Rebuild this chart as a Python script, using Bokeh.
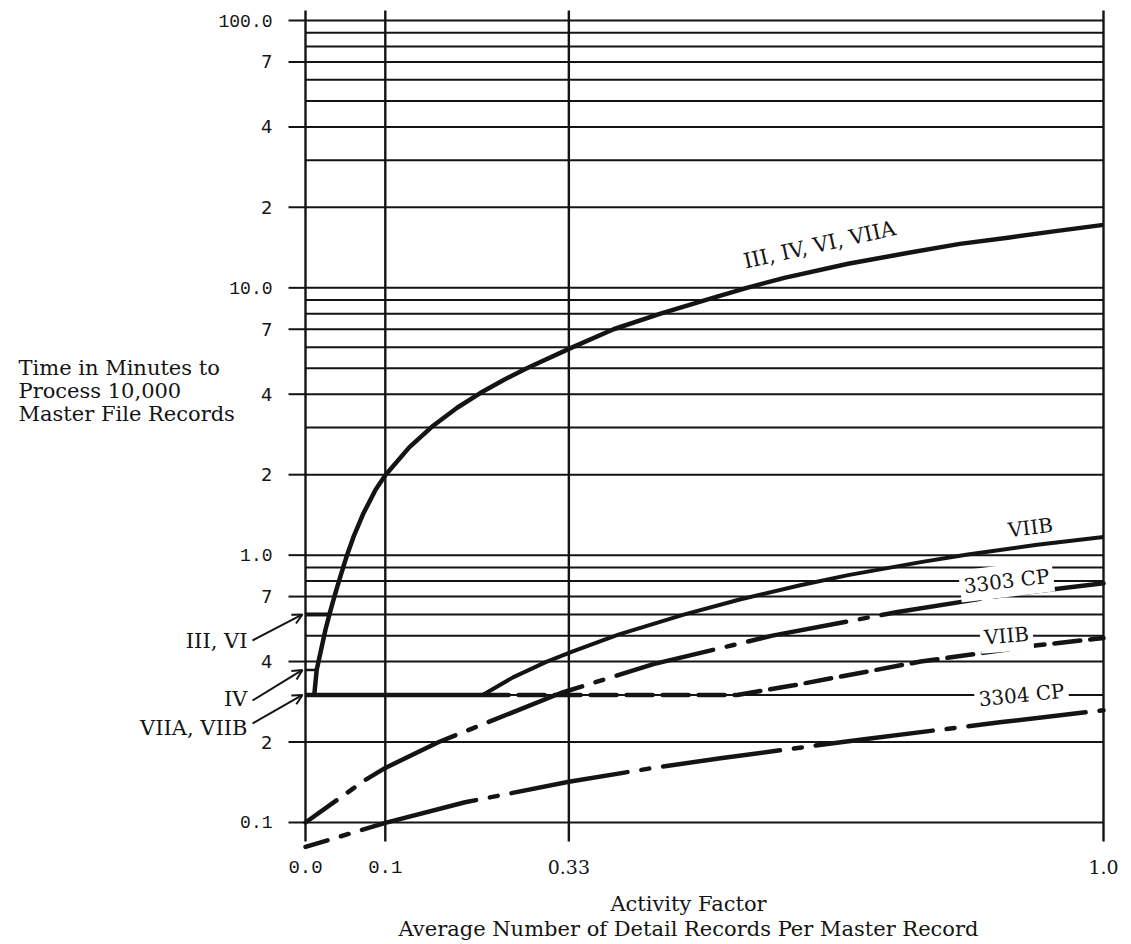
from bokeh.plotting import figure
from bokeh.models import Range1d, Arrow, OpenHead, ColumnDataSource
from bokeh.core.properties import value
from bokeh.embed import file_html
from bokeh.resources import INLINE

# ---------------- data ----------------
x_ticks = [0.0, 0.1, 0.33, 1.0]
x_tick_labels = ["0.0", "0.1", "0.33", "1.0"]
x_tick_fonts = ["Liberation Mono", "Liberation Mono", "DejaVu Serif", "DejaVu Serif"]

y_grid = [0.1, 0.2, 0.3, 0.4, 0.5, 0.6, 0.7, 0.8, 0.9,
          1, 2, 3, 4, 5, 6, 7, 8, 9,
          10, 20, 30, 40, 50, 60, 70, 80, 90, 100]
y_label_values = [100, 70, 40, 20, 10, 7, 4, 2, 1, 0.7, 0.4, 0.2, 0.1]
y_label_texts = ["100.0", "7", "4", "2", "10.0", "7", "4", "2", "1.0", "7", "4", "2", "0.1"]

# starting levels: III, VI ; IV ; VIIA, VIIB
iii_vi_x = [0.0, 0.03]
iii_vi_y = [0.6, 0.6]
iv_x = [0.0, 0.014]
iv_y = [0.372, 0.372]
vii_x = [0.0, 0.222]
vii_y = [0.3, 0.3]

main_x = [0.011, 0.014, 0.025, 0.031, 0.036, 0.042, 0.052, 0.06, 0.072, 0.088, 0.1, 0.13,
          0.16, 0.19, 0.219, 0.25, 0.278, 0.335, 0.386, 0.445, 0.501, 0.553, 0.6, 0.68,
          0.754, 0.82, 0.88, 0.94, 1.0]
main_y = [0.3, 0.372, 0.526, 0.616, 0.697, 0.802, 1.0, 1.168, 1.422, 1.76, 1.99, 2.53,
          3.05, 3.56, 4.04, 4.55, 5.01, 6.0, 7.0, 8.0, 9.0, 10.0, 10.9, 12.3,
          13.5, 14.6, 15.4, 16.3, 17.2]

viib_solid_x = [0.222, 0.26, 0.301, 0.335, 0.392, 0.474, 0.543, 0.62, 0.68, 0.771, 0.83, 0.917, 1.0]
viib_solid_y = [0.30, 0.349, 0.398, 0.437, 0.504, 0.599, 0.681, 0.772, 0.842, 0.942, 1.005, 1.094, 1.17]

viib_dash_x = [0.222, 0.541, 0.612, 0.771, 0.917, 1.0]
viib_dash_y = [0.30, 0.30, 0.326, 0.40, 0.46, 0.49]

cp3303_x = [0.0, 0.073, 0.1, 0.167, 0.32, 0.436, 0.585, 0.742, 0.87, 1.0]
cp3303_y = [0.1, 0.143, 0.16, 0.2, 0.305, 0.391, 0.5, 0.613, 0.705, 0.785]

cp3304_x = [0.0, 0.1, 0.2, 0.33, 0.43, 0.52, 0.7, 0.87, 1.0]
cp3304_y = [0.081, 0.0997, 0.119, 0.142, 0.159, 0.174, 0.205, 0.237, 0.263]

# ---------------- layout helpers (pixel -> data, used only for placing annotations) ----------------
W, H = 1131, 944
PX0, PXW = 305.0, 798.0          # x = 0 at px 305, x = 1 at px 1103
PY100, PYDEC = 20.0, 267.33      # y = 100 at px 20, one decade = 267.33 px


def xd(px):
    return (px - PX0) / PXW


def yd(py):
    return 10 ** (2 - (py - PY100) / PYDEC)


INK = "#141414"
SERIF = "DejaVu Serif"
FS = "21px"

p = figure(width=W, height=H, x_range=Range1d(xd(0), xd(W)), y_range=Range1d(yd(H), yd(0)),
           y_axis_type="log", output_backend="svg", toolbar_location=None,
           x_axis_location=None, y_axis_location=None, min_border=0,
           outline_line_color=None, background_fill_color="white", border_fill_color="white")
p.grid.visible = False

# grid: horizontal lines
n = len(y_grid)
p.segment(x0=[0.0] * n, y0=y_grid, x1=[x_ticks[-1]] * n, y1=y_grid, line_color=INK, line_width=2)
# tick stubs at labelled values
m = len(y_label_values)
p.segment(x0=[xd(288)] * m, y0=y_label_values, x1=[0.0] * m, y1=y_label_values, line_color=INK, line_width=2)
# vertical lines
k = len(x_ticks)
p.segment(x0=x_ticks, y0=[yd(841)] * k, x1=x_ticks, y1=[yd(10)] * k, line_color=INK, line_width=2.4)

# curves
p.line(iii_vi_x, iii_vi_y, line_color=INK, line_width=4)
p.line(iv_x, iv_y, line_color=INK, line_width=2.5)
p.line(vii_x, vii_y, line_color=INK, line_width=4.5)
p.line(main_x, main_y, line_color=INK, line_width=4.5, line_join="round")
p.line(viib_solid_x, viib_solid_y, line_color=INK, line_width=4, line_join="round")
p.line(viib_dash_x, viib_dash_y, line_color=INK, line_width=4.5, line_dash="26 10", line_cap="round")
p.line(cp3303_x, cp3303_y, line_color=INK, line_width=4.5, line_dash="100 14 8 14",
       line_dash_offset=62, line_cap="round", line_join="round")
p.line(cp3304_x, cp3304_y, line_color=INK, line_width=4.5, line_dash="118 14 8 14",
       line_dash_offset=95, line_cap="round", line_join="round")

# y tick labels
y_fonts = ["Liberation Mono" if "." in t else "DejaVu Sans" for t in y_label_texts]
ysrc = ColumnDataSource(dict(x=[xd(272)] * m, y=y_label_values, t=y_label_texts, f=y_fonts))
p.text(x="x", y="y", text="t", text_font="f", text_font_size="18px", source=ysrc,
       text_align="right", text_baseline="middle", text_color=INK)

# x tick labels
xsrc = ColumnDataSource(dict(x=x_ticks, y=[yd(866)] * k, t=x_tick_labels, f=x_tick_fonts))
p.text(x="x", y="y", text="t", text_font="f", text_font_size="19px", source=xsrc,
       text_align="center", text_baseline="middle", text_color=INK)

# axis titles
p.text(x=[xd(688)] * 2, y=[yd(903), yd(928)],
       text=["Activity Factor", "Average Number of Detail Records Per Master Record"],
       text_font=value(SERIF), text_font_size=FS, text_align="center",
       text_baseline="middle", text_color=INK)
p.text(x=[xd(18)] * 3, y=[yd(367), yd(390), yd(413)],
       text=["Time in Minutes to", "Process 10,000", "Master File Records"],
       text_font=value(SERIF), text_font_size=FS, text_align="left",
       text_baseline="middle", text_color=INK)

# left labels + arrows
p.text(x=[xd(247)] * 3, y=[yd(640), yd(698), yd(727)],
       text=["III, VI", "IV", "VIIA, VIIB"],
       text_font=value(SERIF), text_font_size=FS, text_align="right",
       text_baseline="middle", text_color=INK)
for ys, ye in [(yd(640), iii_vi_y[0]), (yd(700), iv_y[0]), (yd(723), vii_y[0])]:
    p.add_layout(Arrow(end=OpenHead(size=10, line_width=2, line_color=INK),
                       x_start=xd(252), y_start=ys, x_end=xd(302), y_end=ye,
                       line_width=2, line_color=INK))

# curve labels
p.text(x=[xd(746)], y=[yd(273)], text=["III, IV, VI, VIIA"], angle=0.22,
       text_font=value(SERIF), text_font_size=FS, text_align="left",
       text_baseline="bottom", text_color=INK)
p.text(x=[xd(1030)], y=[yd(527)], text=["VIIB"], angle=0.12,
       text_font=value(SERIF), text_font_size="20px", text_align="center",
       text_baseline="middle", text_color=INK)
p.text(x=[xd(1006), xd(1006), xd(1021)], y=[0.8, 0.5, 0.3],
       text=["3303 CP", "VIIB", "3304 CP"], angle=[0.12, 0.08, 0.1],
       text_font=value(SERIF), text_font_size="20px", text_align="center",
       text_baseline="middle", text_color=INK,
       background_fill_color="white", padding=4)

open("out.html", "w").write(file_html(p, INLINE))
